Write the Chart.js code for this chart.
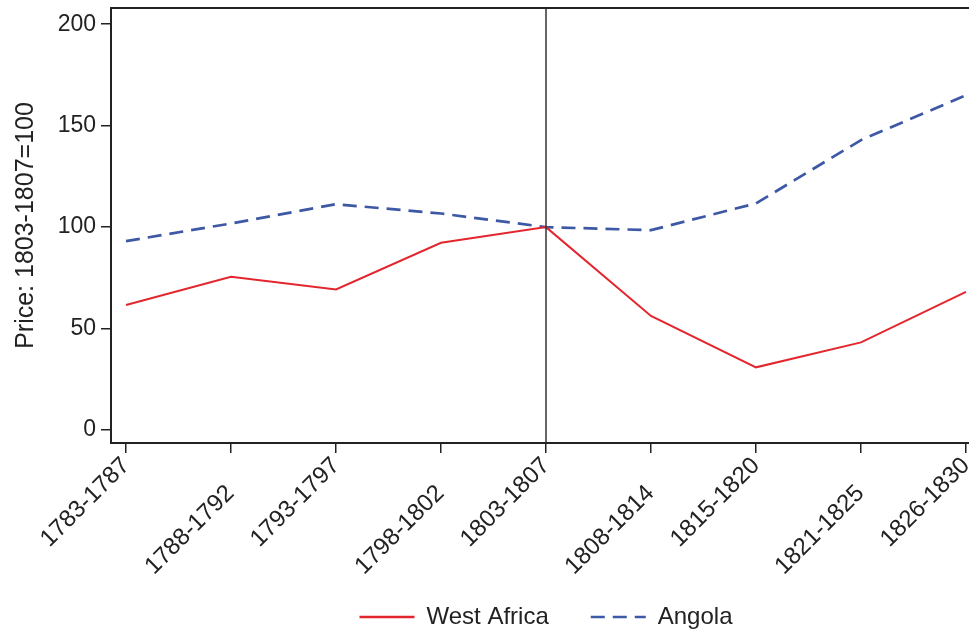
<!DOCTYPE html>
<html>
<head>
<meta charset="utf-8">
<script src="https://cdn.jsdelivr.net/npm/chart.js@4/dist/chart.umd.min.js"></script>
<style>
  html, body { margin: 0; padding: 0; background: #fff; overflow: hidden; }
  #wrap { width: 984px; height: 639px; }
</style>
</head>
<body>
<div id="wrap"><canvas id="price-chart"></canvas></div>
<script>
// periods on the x axis
var periods = ["1783-1787", "1788-1792", "1793-1797", "1798-1802", "1803-1807",
               "1808-1814", "1815-1820", "1821-1825", "1826-1830"];
// price index, 1803-1807 = 100
var westAfrica = [61.6, 75.5, 69.3, 92.3, 100, 56.2, 30.9, 43.2, 68.1];
var angola = [93.1, 101.8, 111.3, 106.7, 100, 98.5, 111.7, 142.9, 165];
var yTicks = [0, 50, 100, 150, 200];
var basePeriod = "1803-1807";

function points(values) {
    return values.map(function (v, i) { return {x: i, y: v}; });
}

// box round the plot and the vertical line at the base period
var framePlugin = {
    id: 'frame',
    afterDatasetsDraw: function (chart) {
        var a = chart.chartArea, ctx = chart.ctx;
        var x = chart.scales.x.getPixelForValue(periods.indexOf(basePeriod));
        ctx.save();
        ctx.strokeStyle = '#333';
        ctx.lineWidth = 1.5;
        ctx.beginPath();
        ctx.moveTo(x, a.top);
        ctx.lineTo(x, a.bottom);
        ctx.stroke();
        ctx.strokeStyle = '#222';
        ctx.lineWidth = 2;
        ctx.strokeRect(a.left, a.top, a.right - a.left, a.bottom - a.top);
        ctx.restore();
    }
};

var ctx = document.getElementById("price-chart").getContext("2d");
var priceChart = new Chart(ctx, {
    type: 'line',
    data: {
        datasets: [{
            label: "West Africa",
            data: points(westAfrica),
            borderColor: '#e3262e',
            backgroundColor: '#e3262e',
            borderWidth: 2,
            pointRadius: 0,
            pointStyle: 'line',
            tension: 0
        }, {
            label: "Angola",
            data: points(angola),
            borderColor: '#3d58a5',
            backgroundColor: '#3d58a5',
            borderWidth: 2.7,
            borderDash: [14, 8],
            pointRadius: 0,
            pointStyle: 'line',
            tension: 0
        }]
    },
    options: {
        responsive: true,
        maintainAspectRatio: false,
        animation: false,
        layout: {padding: {left: 0, right: 3, top: 8, bottom: 0}},
        plugins: {
            tooltip: {enabled: false},
            legend: {
                position: 'bottom',
                fullSize: false,
                labels: {
                    usePointStyle: true,
                    pointStyleWidth: 55,
                    padding: 22,
                    color: '#222',
                    font: {family: 'Arial, "Liberation Sans", sans-serif', size: 24},
                    generateLabels: function (chart) {
                        var items = Chart.defaults.plugins.legend.labels.generateLabels(chart);
                        items.forEach(function (item, i) {
                            var ds = chart.data.datasets[i];
                            item.lineDash = ds.borderDash || [];
                            item.lineWidth = 2.6;
                            item.strokeStyle = ds.borderColor;
                        });
                        // wider gap after the first key, as in the original
                        items[0].text += '   ';
                        return items;
                    }
                }
            }
        },
        scales: {
            x: {
                type: 'linear',
                min: -0.143,
                max: 8.143,
                afterBuildTicks: function (scale) {
                    scale.ticks = periods.map(function (p, i) { return {value: i}; });
                },
                afterFit: function (scale) {
                    scale.height = 140;
                    scale.paddingLeft = 0;
                    scale.paddingRight = 0;
                },
                grid: {drawOnChartArea: false, drawTicks: true, tickLength: 10, color: '#222', lineWidth: 1.5},
                border: {display: true, color: '#222', width: 2},
                ticks: {
                    autoSkip: false,
                    minRotation: 45,
                    maxRotation: 45,
                    padding: 2,
                    color: '#222',
                    font: {family: 'Arial, "Liberation Sans", sans-serif', size: 24, lineHeight: 0.8},
                    callback: function (value) {
                        var label = periods[value];
                        // every other label is pushed down, as in the original
                        return value % 2 === 1 ? ['', label + '   '] : label;
                    }
                }
            },
            y: {
                min: -6.4,
                max: 208,
                afterBuildTicks: function (scale) {
                    scale.ticks = yTicks.map(function (v) { return {value: v}; });
                },
                afterFit: function (scale) {
                    scale.width = 111;
                    scale.paddingTop = 0;
                    scale.paddingBottom = 0;
                },
                grid: {drawOnChartArea: false, drawTicks: true, tickLength: 10, color: '#222', lineWidth: 1.5},
                border: {display: true, color: '#222', width: 2},
                ticks: {
                    padding: 5,
                    color: '#222',
                    font: {family: 'Arial, "Liberation Sans", sans-serif', size: 23}
                },
                title: {
                    display: true,
                    text: 'Price: 1803-1807=100',
                    color: '#222',
                    padding: {top: 11, bottom: 0},
                    font: {family: 'Arial, "Liberation Sans", sans-serif', size: 25}
                }
            }
        }
    },
    plugins: [framePlugin]
});
</script>
</body>
</html>
